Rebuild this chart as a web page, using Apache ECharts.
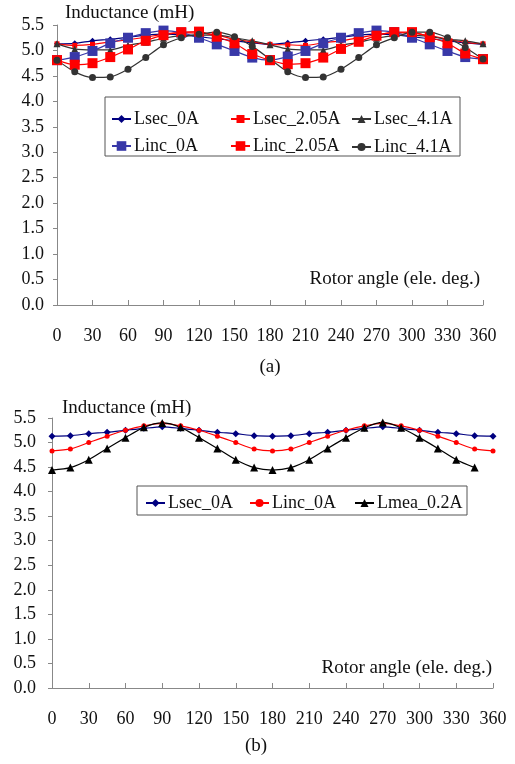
<!DOCTYPE html>
<html>
<head>
<meta charset="utf-8">
<script src="https://cdn.jsdelivr.net/npm/echarts@6/dist/echarts.min.js"></script>
<style>
  html, body { margin: 0; padding: 0; background: #fff; }
  #chartA { position: absolute; left: 0; top: 0; width: 515px; height: 380px; }
  #chartB { position: absolute; left: 0; top: 380px; width: 515px; height: 384px; }
</style>
</head>
<body>
<div id="chartA"></div>
<div id="chartB"></div>
<script>
// rotor angle (ele. deg.)
var angles = [0, 15, 30, 45, 60, 75, 90, 105, 120, 135, 150, 165, 180,
  195, 210, 225, 240, 255, 270, 285, 300, 315, 330, 345, 360];
var xTicks = [0, 30, 60, 90, 120, 150, 180, 210, 240, 270, 300, 330, 360];

// (a) inductance, mH
var lsec0A = [5.13, 5.14, 5.19, 5.22, 5.26, 5.30, 5.32, 5.31, 5.27, 5.23, 5.19, 5.15, 5.12,
  5.15, 5.19, 5.22, 5.26, 5.30, 5.32, 5.31, 5.27, 5.23, 5.19, 5.15, 5.12];
var lsec205A = [5.13, 5.10, 5.12, 5.17, 5.21, 5.26, 5.32, 5.35, 5.34, 5.30, 5.22, 5.17, 5.12,
  5.11, 5.10, 5.15, 5.19, 5.25, 5.31, 5.35, 5.34, 5.29, 5.22, 5.16, 5.13];
var lsec41A = [5.13, 5.03, 5.01, 5.01, 5.10, 5.16, 5.24, 5.29, 5.30, 5.30, 5.25, 5.19, 5.11,
  5.03, 5.01, 5.01, 5.10, 5.16, 5.24, 5.29, 5.30, 5.27, 5.22, 5.19, 5.13];
var linc0A = [4.81, 4.87, 4.99, 5.14, 5.25, 5.34, 5.39, 5.35, 5.25, 5.12, 4.99, 4.86, 4.81,
  4.88, 4.99, 5.14, 5.25, 5.34, 5.39, 5.36, 5.25, 5.12, 4.99, 4.87, 4.83];
var linc205A = [4.81, 4.72, 4.75, 4.87, 5.02, 5.19, 5.30, 5.36, 5.37, 5.27, 5.14, 4.93, 4.81,
  4.73, 4.75, 4.86, 5.03, 5.17, 5.29, 5.36, 5.36, 5.26, 5.14, 4.94, 4.83];
var linc41A = [4.81, 4.58, 4.47, 4.48, 4.63, 4.86, 5.11, 5.25, 5.32, 5.36, 5.27, 5.08, 4.83,
  4.58, 4.47, 4.48, 4.63, 4.86, 5.11, 5.25, 5.36, 5.36, 5.25, 5.06, 4.83];

// (b) inductance, mH
var lsec0A_b = [5.13, 5.14, 5.18, 5.21, 5.25, 5.29, 5.32, 5.29, 5.25, 5.21, 5.18, 5.14, 5.13,
  5.14, 5.18, 5.21, 5.25, 5.29, 5.32, 5.29, 5.25, 5.21, 5.18, 5.14, 5.13];
var linc0A_b = [4.83, 4.87, 5.00, 5.13, 5.25, 5.34, 5.39, 5.34, 5.25, 5.13, 5.00, 4.87, 4.83,
  4.87, 5.00, 5.13, 5.25, 5.34, 5.39, 5.34, 5.25, 5.13, 5.00, 4.87, 4.83];
var lmea02A_b = [4.44, 4.49, 4.65, 4.88, 5.10, 5.31, 5.40, 5.31, 5.10, 4.88, 4.65, 4.49, 4.44,
  4.49, 4.65, 4.88, 5.10, 5.30, 5.41, 5.30, 5.10, 4.88, 4.65, 4.49, null];

var FONT = '"Liberation Serif", "Times New Roman", serif';

function pairs(vals) {
  var out = [];
  for (var i = 0; i < angles.length; i++) {
    if (vals[i] != null) out.push([angles[i], vals[i]]);
  }
  return out;
}

function line(name, vals, color, symbol, size) {
  return {
    name: name,
    type: 'line',
    data: pairs(vals),
    smooth: 0.25,
    symbol: symbol,
    symbolSize: size,
    lineStyle: { color: color, width: 1.2 },
    itemStyle: { color: color },
    animation: false
  };
}

// one legend per item so the columns sit like the original
function legendItem(name, left, top, h) {
  return {
    data: [name],
    left: left,
    top: top,
    padding: 0,
    itemWidth: 19,
    itemHeight: h || 10,
    itemGap: 0,
    textStyle: { fontFamily: FONT, fontSize: 18, color: '#111', padding: [0, 0, 0, -2] },
    selectedMode: false
  };
}

function axes(labelMargin) {
  return {
    xAxis: {
      type: 'value', min: 0, max: 360, interval: 30,
      axisLine: { lineStyle: { color: '#888', width: 1 } },
      axisTick: { inside: true, length: 5, lineStyle: { color: '#888' } },
      axisLabel: { fontFamily: FONT, fontSize: 18, color: '#111', margin: 22,
        formatter: function (v) { return xTicks.indexOf(v) >= 0 ? String(v) : ''; } },
      splitLine: { show: false }
    },
    yAxis: {
      type: 'value', min: 0, max: 5.5, interval: 0.5,
      axisLine: { show: true, lineStyle: { color: '#888', width: 1 } },
      axisTick: { show: true, length: 4, lineStyle: { color: '#888' } },
      axisLabel: { fontFamily: FONT, fontSize: 18, color: '#111', margin: labelMargin,
        formatter: function (v) { return v.toFixed(1); } },
      splitLine: { show: false }
    }
  };
}

function text(str, x, y, align, size) {
  return {
    type: 'text', x: x, y: y,
    style: { text: str, font: size + 'px ' + FONT, fill: '#111',
      textAlign: align, textVerticalAlign: 'middle' }
  };
}

var chartA = echarts.init(document.getElementById('chartA'));
var axA = axes(13);
chartA.setOption({
  backgroundColor: '#fff',
  animation: false,
  grid: { left: 57, right: 32, top: 25, bottom: 75 },
  xAxis: axA.xAxis,
  yAxis: axA.yAxis,
  legend: [
    legendItem('Lsec_0A', 111, 110),
    legendItem('Lsec_2.05A', 230, 110),
    legendItem('Lsec_4.1A', 351, 110),
    legendItem('Linc_0A', 111, 137, 12),
    legendItem('Linc_2.05A', 230, 137, 12),
    legendItem('Linc_4.1A', 351, 138)
  ],
  graphic: [
    { type: 'rect', shape: { x: 105, y: 97, width: 355, height: 59 },
      style: { fill: 'none', stroke: '#555', lineWidth: 1 }, z: 0 },
    text('Inductance (mH)', 65, 13, 'left', 19),
    text('Rotor angle (ele. deg.)', 480, 279, 'right', 19),
    text('(a)', 270, 367, 'center', 19)
  ],
  series: [
    line('Lsec_0A', lsec0A, '#000080', 'diamond', 6),
    line('Lsec_2.05A', lsec205A, '#ff0000', 'rect', 5),
    line('Lsec_4.1A', lsec41A, '#333333', 'triangle', 7),
    line('Linc_0A', linc0A, '#3838a8', 'rect', 10),
    line('Linc_2.05A', linc205A, '#ff0000', 'rect', 10),
    line('Linc_4.1A', linc41A, '#333333', 'circle', 7)
  ]
});

var chartB = echarts.init(document.getElementById('chartB'));
var axB = axes(16);
chartB.setOption({
  backgroundColor: '#fff',
  animation: false,
  grid: { left: 52, right: 22, top: 38, bottom: 76 },
  xAxis: axB.xAxis,
  yAxis: axB.yAxis,
  legend: [
    legendItem('Lsec_0A', 145, 114),
    legendItem('Linc_0A', 249, 114),
    legendItem('Lmea_0.2A', 354, 114)
  ],
  graphic: [
    { type: 'rect', shape: { x: 137, y: 106, width: 330, height: 29 },
      style: { fill: 'none', stroke: '#555', lineWidth: 1 }, z: 0 },
    text('Inductance (mH)', 62, 28, 'left', 19),
    text('Rotor angle (ele. deg.)', 492, 288, 'right', 19),
    text('(b)', 256, 366, 'center', 19)
  ],
  series: [
    line('Lsec_0A', lsec0A_b, '#000080', 'diamond', 7),
    line('Linc_0A', linc0A_b, '#ff0000', 'circle', 5),
    line('Lmea_0.2A', lmea02A_b, '#000000', 'triangle', 8)
  ]
});
</script>
</body>
</html>
